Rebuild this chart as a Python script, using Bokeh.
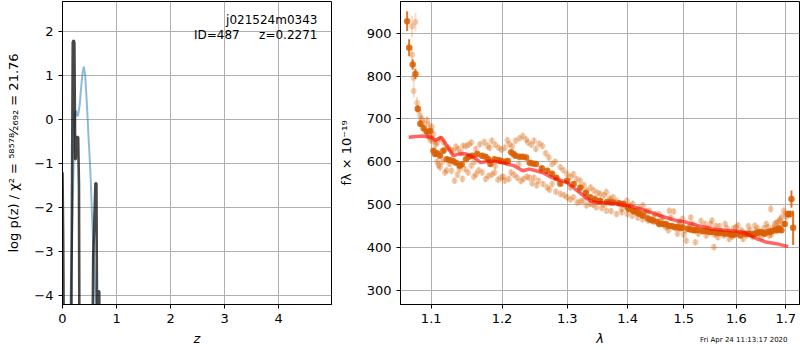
from bokeh.plotting import figure
from bokeh.layouts import row, column
from bokeh.models import (Range1d, FixedTicker, PrintfTickFormatter, Label, Div,
                          ColumnDataSource, CustomJSTickFormatter)
from bokeh.embed import file_html
from bokeh.resources import INLINE

# ---------------- left panel data: log p(z) ----------------
z_pz = [0.0, 0.012, 0.04, 0.15, 0.19, 0.205, 0.22, 0.235, 0.245, 0.26, 0.29,
        0.305, 0.32, 0.54, 0.568, 0.61, 0.628, 0.652, 0.662, 0.68, 0.70, 4.98]
logp = [-1.2, -2.6, -8, -8, 1.75, 1.8, 1.75, -0.9, -0.9, -0.4, -0.4,
        -1.5, -8, -8, -3.15, -1.45, -1.45, -8, -3.9, -3.9, -8, -8]

z_prior = [0.13, 0.16, 0.19, 0.21, 0.23, 0.25, 0.27, 0.29, 0.32, 0.35, 0.37,
           0.395, 0.42, 0.44, 0.46, 0.48, 0.50, 0.52, 0.55, 0.58, 0.61, 0.64]
prior = [-5.5, -3.4, -1.9, -0.7, 0.15, 0.2, 0.08, 0.1, 0.35, 0.8, 1.05,
         1.2, 1.0, 0.6, 0.15, -0.35, -0.8, -1.3, -2.3, -3.1, -4.1, -5.0]

left_xticks = [0, 1, 2, 3, 4]
left_yticks = [-4, -3, -2, -1, 0, 1, 2]

# ---------------- right panel data: spectrum ----------------
# light (unbinned) points, several groups
lam_a = [1.0745, 1.0789, 1.0745, 1.0765, 1.0765, 1.0810, 1.0830, 1.0855, 1.0870, 1.0900,
         1.0943, 1.0970, 1.0987, 1.1010, 1.1030, 1.0920, 1.0960, 1.0990]
f_a = [916, 926, 850, 796, 765, 738, 720, 707, 700, 690, 697, 685, 657, 681, 664, 672, 660, 650]
e_a = [25, 22, 20, 16, 15, 13, 12, 11, 10, 10, 10, 10, 9, 9, 9, 9, 9, 9]

lam_b = [1.103, 1.108, 1.112, 1.1188, 1.123, 1.130, 1.137, 1.1438, 1.148, 1.1556,
         1.1678, 1.179, 1.185, 1.195, 1.204, 1.211, 1.220, 1.231, 1.239, 1.248,
         1.251, 1.261, 1.271, 1.276, 1.289, 1.2998, 1.310, 1.321, 1.332, 1.343,
         1.354, 1.364, 1.3756, 1.387, 1.399, 1.409, 1.4266, 1.438, 1.455, 1.4735,
         1.106, 1.117, 1.127, 1.134, 1.141, 1.152, 1.162, 1.174, 1.182, 1.190,
         1.199, 1.208, 1.215, 1.226, 1.236, 1.244, 1.256, 1.266, 1.281, 1.294,
         1.305, 1.315, 1.327, 1.338, 1.349, 1.360, 1.370, 1.381, 1.393, 1.404,
         1.420, 1.432, 1.448]
f_b = [649, 645, 653, 630, 633, 625, 630, 637, 637, 645,
       641, 637, 649, 633, 633, 641, 649, 660, 645, 649,
       630, 637, 610, 595, 587, 571, 571, 556, 533, 533,
       525, 529, 517, 502, 509, 502, 498, 486, 478, 486,
       640, 645, 628, 635, 622, 640, 630, 646, 632, 640,
       628, 650, 636, 655, 652, 640, 642, 620, 600, 580,
       565, 560, 545, 540, 528, 522, 515, 508, 500, 498,
       492, 485, 478]
e_b = [9, 9, 8, 9, 8, 9, 8, 8, 9, 8, 8, 9, 8, 8, 9, 8, 8, 9, 8, 8,
       8, 9, 8, 8, 8, 9, 8, 8, 8, 8, 8, 9, 8, 8, 8, 8, 8, 8, 8, 8,
       9, 8, 8, 9, 8, 8, 8, 9, 8, 8, 8, 9, 8, 8, 8, 8, 8, 8, 8, 8,
       8, 8, 8, 8, 8, 8, 8, 8, 8, 8, 8, 8, 8]

lam_c = [1.108, 1.112, 1.1188, 1.1278, 1.132, 1.139, 1.1466, 1.1556, 1.1624, 1.171,
         1.180, 1.189, 1.1985, 1.204, 1.2133, 1.2225, 1.232, 1.241, 1.248, 1.255,
         1.2685, 1.276, 1.2893, 1.2998, 1.310, 1.316, 1.326, 1.337, 1.347, 1.364,
         1.381, 1.3995, 1.4175, 1.4356, 1.455, 1.4676,
         1.110, 1.121, 1.136, 1.143, 1.151, 1.159, 1.166, 1.176, 1.185, 1.194,
         1.202, 1.210, 1.218, 1.228, 1.237, 1.245, 1.252, 1.262, 1.272, 1.282,
         1.295, 1.305, 1.321, 1.331, 1.342, 1.356, 1.372, 1.390, 1.408, 1.426,
         1.445]
f_c = [600, 587, 575, 579, 556, 583, 583, 591, 571, 575,
       567, 575, 563, 556, 575, 563, 560, 563, 563, 556,
       540, 548, 525, 517, 517, 505, 509, 502, 494, 486,
       478, 478, 470, 463, 455, 447,
       592, 580, 570, 560, 575, 565, 580, 560, 570, 558,
       565, 560, 570, 555, 565, 550, 545, 548, 535, 530,
       522, 512, 508, 498, 500, 492, 485, 482, 474, 466,
       460]
e_c = [9, 9, 8, 9, 8, 9, 8, 8, 9, 8, 8, 8, 9, 8, 8, 8, 8, 8, 8, 8,
       8, 8, 8, 8, 8, 8, 8, 8, 8, 8, 8, 8, 8, 8, 8, 8,
       9, 8, 8, 9, 8, 8, 8, 8, 8, 8, 8, 8, 8, 8, 8, 8, 8, 8, 8, 8,
       8, 8, 8, 8, 8, 8, 8, 8, 8, 8, 8]

lam_d = [1.115, 1.125, 1.160, 1.190, 1.225, 1.260, 1.285, 1.305, 1.320, 1.330,
         1.345, 1.360, 1.370, 1.390, 1.400, 1.415, 1.430, 1.445, 1.460]
f_d = [600, 595, 600, 590, 595, 580, 560, 540, 535, 520,
       515, 500, 510, 490, 495, 485, 480, 468, 470]
e_d = [8, 8, 8, 8, 8, 8, 8, 8, 8, 8, 8, 8, 8, 8, 8, 8, 8, 8, 8]

lam_e = [1.4815, 1.472, 1.4885, 1.4978, 1.5045, 1.513, 1.5216, 1.527, 1.5397, 1.553,
         1.5566, 1.564, 1.578, 1.5857, 1.5993, 1.6135, 1.627, 1.6366, 1.6503, 1.6635,
         1.669, 1.677, 1.6837, 1.691, 1.696, 1.6995, 1.460, 1.490, 1.510, 1.535,
         1.545, 1.570, 1.590, 1.610, 1.620, 1.640, 1.655, 1.670, 1.680, 1.500,
         1.560, 1.595, 1.645, 1.685,
         1.465, 1.476, 1.485, 1.493, 1.503, 1.516, 1.524, 1.532, 1.542, 1.550,
         1.558, 1.567, 1.575, 1.582, 1.592, 1.603, 1.612, 1.624, 1.632, 1.642,
         1.652, 1.660, 1.666, 1.674, 1.681, 1.688, 1.694, 1.701]
f_e = [484, 440, 432, 467, 416, 470, 412, 432, 455, 463,
       401, 424, 455, 420, 447, 420, 440, 451, 424, 447,
       490, 455, 440, 470, 486, 478, 462, 452, 448, 440,
       445, 437, 432, 440, 428, 438, 445, 430, 445, 430,
       450, 445, 430, 460,
       452, 470, 445, 460, 440, 455, 445, 462, 428, 455,
       430, 450, 428, 445, 425, 452, 435, 450, 425, 445,
       435, 455, 428, 445, 458, 465, 455, 472]
e_e = [8, 8, 8, 8, 8, 8, 8, 8, 8, 8, 8, 8, 8, 8, 8, 8, 8, 8, 8, 8,
       9, 9, 9, 10, 10, 10, 8, 8, 8, 8, 8, 8, 8, 8, 8, 8, 8, 8, 8, 8,
       8, 8, 8, 9,
       8, 8, 8, 8, 8, 8, 8, 8, 8, 8, 8, 8, 8, 8, 8, 8, 8, 8, 8, 8,
       8, 8, 8, 9, 9, 9, 10, 10]

# dark (binned) points
lam_bin = [1.0680, 1.0706, 1.0753, 1.0789, 1.0819, 1.0854, 1.0898, 1.0943, 1.0987, 1.1030,
           1.1053, 1.1120, 1.1165, 1.1210, 1.1298, 1.1390, 1.1420, 1.1480, 1.1570, 1.1640,
           1.1710, 1.1800, 1.1830, 1.1890, 1.1985, 1.2085, 1.2133, 1.2200, 1.2310, 1.2414,
           1.2510, 1.2685, 1.2760, 1.2825, 1.2890, 1.2998, 1.3103, 1.3211, 1.3373, 1.3536,
           1.3756, 1.3924, 1.4094, 1.4266, 1.4441, 1.4557, 1.4676, 1.4890, 1.4978, 1.5180,
           1.5216, 1.5480, 1.5533, 1.5780, 1.5857, 1.6080, 1.6169, 1.6266, 1.6366, 1.6466,
           1.6566, 1.6630, 1.6770, 1.6910, 1.6980, 1.7050, 1.7090, 1.7120, 1.7155,
           1.3300, 1.3450, 1.3650, 1.3850, 1.4000, 1.4180, 1.4350, 1.4780, 1.5080, 1.5350,
           1.5650, 1.5950, 1.6700, 1.6850,
           1.352, 1.371, 1.402, 1.412, 1.422, 1.440, 1.452, 1.462, 1.473, 1.483,
           1.494, 1.512, 1.527, 1.541, 1.560, 1.572, 1.590, 1.600, 1.622, 1.632,
           1.641, 1.652, 1.668, 1.681, 1.686, 1.260, 1.246, 1.236, 1.226, 1.217,
           1.152, 1.176, 1.195, 1.204, 1.134, 1.125, 1.108]
f_bin = [928, 866, 827, 805, 724, 689, 678, 670, 672, 626,
         618, 614, 626, 606, 602, 591, 594, 606, 614, 618,
         614, 606, 595, 606, 602, 602, 622, 614, 612, 598,
         595, 579, 572, 563, 549, 556, 548, 540, 517, 509,
         505, 502, 486, 474, 463, 455, 455, 447, 447, 440,
         440, 436, 436, 432, 432, 428, 432, 432, 432, 436,
         432, 436, 440, 440, 455, 478, 478, 513, 446,
         528, 512, 506, 503, 494, 480, 468, 450, 444, 438,
         434, 430, 438, 442,
         508, 505, 490, 484, 478, 465, 460, 455, 450, 448,
         445, 442, 440, 438, 435, 434, 430, 432, 432, 430,
         434, 435, 437, 440, 445, 585, 596, 610, 612, 618,
         612, 612, 604, 600, 598, 604, 620]
e_bin = [23, 20, 12, 12, 8, 8, 7, 6, 6, 5,
         5, 5, 5, 5, 5, 5, 5, 5, 5, 5,
         5, 5, 5, 5, 5, 5, 5, 5, 5, 5,
         5, 5, 5, 5, 5, 5, 5, 5, 5, 5,
         5, 5, 5, 5, 5, 5, 5, 5, 5, 5,
         5, 5, 5, 5, 5, 5, 5, 5, 5, 5,
         5, 5, 5, 6, 6, 8, 8, 20, 40,
         5, 5, 5, 5, 5, 5, 5, 5, 5, 5,
         5, 5, 5, 5,
         5, 5, 5, 5, 5, 5, 5, 5, 5, 5,
         5, 5, 5, 5, 5, 5, 5, 5, 5, 5,
         5, 5, 5, 5, 5, 5, 5, 5, 5, 5,
         5, 5, 5, 5, 5, 5, 5]

# model
lam_model = [1.070, 1.0877, 1.101, 1.105, 1.114, 1.123, 1.130, 1.137, 1.1466, 1.160,
             1.169, 1.183, 1.2035, 1.207, 1.2175, 1.231, 1.2414, 1.251, 1.261, 1.276,
             1.2995, 1.3095, 1.319, 1.337, 1.347, 1.366, 1.381, 1.3995, 1.413, 1.431,
             1.449, 1.467, 1.486, 1.5045, 1.527, 1.553, 1.578, 1.603, 1.621, 1.641,
             1.661, 1.681, 1.705]
f_model = [657, 660, 657, 650, 657, 633, 614, 618, 619, 610,
           598, 602, 598, 595, 591, 579, 583, 579, 575, 563,
           552, 540, 529, 509, 505, 504, 502, 498, 494, 486,
           478, 470, 463, 459, 451, 443, 440, 438, 432, 420,
           412, 409, 402]

right_xticks = [1.1, 1.2, 1.3, 1.4, 1.5, 1.6, 1.7]
right_yticks = [300, 400, 500, 600, 700, 800, 900]
date_text = "Fri Apr 24 11:13:17 2020"

FONT = "DejaVu Sans"
ORANGE = "#d95f02"


def style(p):
    p.outline_line_color = "black"
    p.outline_line_width = 1
    p.outline_line_alpha = 1
    p.background_fill_color = "white"
    p.border_fill_color = "white"
    for ax in p.axis:
        ax.axis_line_color = "black"
        ax.major_tick_out = 4
        ax.major_tick_in = 0
        ax.major_tick_line_color = "black"
        ax.minor_tick_line_color = None
        ax.major_label_text_font = FONT
        ax.major_label_text_font_size = "13px"
        ax.major_label_text_color = "black"
        ax.axis_label_text_font = FONT
        ax.axis_label_text_font_size = "13px"
        ax.axis_label_text_color = "black"
    p.grid.grid_line_color = "#b0b0b0"
    p.grid.grid_line_width = 1
    p.yaxis.axis_label_text_font_style = "normal"


minus_fmt = "return (tick < 0 ? '\u2212' : '') + Math.abs(tick).toString();"

# ---------------- left figure ----------------
p1 = figure(width=335, height=350, x_range=Range1d(0, 4.98), y_range=Range1d(-4.2, 2.68),
            output_backend="svg", toolbar_location=None,
            min_border_left=62, min_border_right=4, min_border_top=1, min_border_bottom=46)
p1.xaxis.ticker = FixedTicker(ticks=left_xticks)
p1.yaxis.ticker = FixedTicker(ticks=left_yticks)
p1.yaxis.formatter = CustomJSTickFormatter(code=minus_fmt)
p1.xaxis.axis_label = "z"
p1.yaxis.axis_label = "log p(z) / \u03c7\u00b2 = \u2075\u2078\u2075\u2077\u2078\u2044\u2082\u2086\u2089\u2082 = 21.76"
style(p1)
p1.yaxis.axis_label_standoff = 10

p1.line(z_prior, prior, line_color="#1f77b4", line_alpha=0.5, line_width=2)
p1.line(z_pz, logp, line_color="black", line_alpha=0.72, line_width=2.6)

for x, y, t in [(4.72, 2.25, "j021524m0343"), (3.28, 1.91, "ID=487"), (4.72, 1.91, "z=0.2271")]:
    p1.add_layout(Label(x=x, y=y, text=t, text_align="right", text_baseline="middle",
                        text_font=FONT, text_font_size="12px", text_color="black"))

# ---------------- right figure ----------------
p2 = figure(width=465, height=350, x_axis_type="log",
            x_range=Range1d(1.0593, 1.729), y_range=Range1d(267, 974),
            output_backend="svg", toolbar_location=None,
            min_border_left=60, min_border_right=1, min_border_top=1, min_border_bottom=46)
p2.xaxis.ticker = FixedTicker(ticks=right_xticks)
p2.xaxis.formatter = PrintfTickFormatter(format="%.1f")
p2.yaxis.ticker = FixedTicker(ticks=right_yticks)
p2.xaxis.axis_label = "\u03bb"
p2.yaxis.axis_label = "f\u03bb \u00d7 10\u207b\u00b9\u2079"
style(p2)
p2.yaxis.axis_label_standoff = 10

lam_light = lam_a + lam_b + lam_c + lam_d + lam_e
f_light = f_a + f_b + f_c + f_d + f_e
e_light = e_a + e_b + e_c + e_d + e_e
src_l = ColumnDataSource(dict(x=lam_light, y=f_light,
                              lo=[f - e for f, e in zip(f_light, e_light)],
                              hi=[f + e for f, e in zip(f_light, e_light)]))
p2.segment(x0="x", y0="lo", x1="x", y1="hi", source=src_l, line_color=ORANGE,
           line_alpha=0.22, line_width=2)
p2.scatter(x="x", y="y", source=src_l, size=6, fill_color=ORANGE, fill_alpha=0.3,
           line_color=None)

src_b = ColumnDataSource(dict(x=lam_bin, y=f_bin,
                              lo=[f - e for f, e in zip(f_bin, e_bin)],
                              hi=[f + e for f, e in zip(f_bin, e_bin)]))
p2.segment(x0="x", y0="lo", x1="x", y1="hi", source=src_b, line_color=ORANGE,
           line_alpha=0.85, line_width=2)
p2.scatter(x="x", y="y", source=src_b, size=6.5, fill_color=ORANGE, fill_alpha=0.85,
           line_color=None)

p2.line(lam_model, f_model, line_color="red", line_alpha=0.6, line_width=3.5)

date_div = Div(text=date_text, width=96, height=10,
               styles={"margin-top": "-15px", "margin-left": "700px",
                       "font-size": "7px", "font-family": "DejaVu Sans",
                       "color": "black", "line-height": "10px",
                       "white-space": "nowrap"})

layout = column(row(p1, p2), date_div, spacing=0)
open("out.html", "w").write(file_html(layout, INLINE))
